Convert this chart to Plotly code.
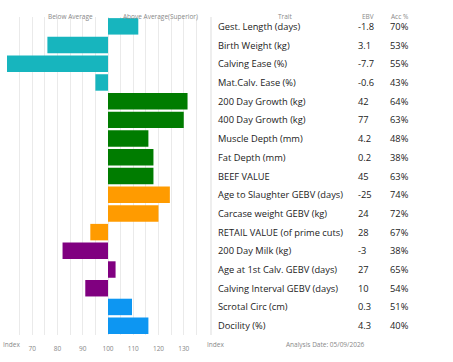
import plotly.graph_objects as go

traits = ["Gest. Length (days)", "Birth Weight (kg)", "Calving Ease (%)", "Mat.Calv. Ease (%)",
          "200 Day Growth (kg)", "400 Day Growth (kg)", "Muscle Depth (mm)", "Fat Depth (mm)",
          "BEEF VALUE", "Age to Slaughter GEBV (days)", "Carcase weight GEBV (kg)",
          "RETAIL VALUE (of prime cuts)", "200 Day Milk (kg)", "Age at 1st Calv. GEBV (days)",
          "Calving Interval GEBV (days)", "Scrotal Circ (cm)", "Docility (%)"]
ebv = ["-1.8", "3.1", "-7.7", "-0.6", "42", "77", "4.2", "0.2", "45", "-25", "24", "28",
       "-3", "27", "10", "0.3", "4.3"]
acc = ["70%", "53%", "55%", "43%", "64%", "63%", "48%", "38%", "63%", "74%", "72%", "67%",
       "38%", "65%", "54%", "51%", "40%"]
index_vals = [112, 76, 60, 95, 131.5, 130, 116, 118, 118, 124.5, 120, 93, 82, 103, 91, 109.5, 116]
groups = ["calving"] * 4 + ["growth"] * 5 + ["carcase"] * 3 + ["maternal"] * 3 + ["other"] * 2
tick_vals = [70, 80, 90, 100, 110, 120, 130]

group_colors = {"calving": "#17B5BE", "growth": "#007C00", "carcase": "#FF9B00",
                "maternal": "#800080", "other": "#0D96F2"}
colors = [group_colors[g] for g in groups]

AVG = 100
fig = go.Figure(go.Bar(
    y=traits, x=[v - AVG for v in index_vals], base=AVG, orientation="h",
    marker=dict(color=colors, line=dict(width=0)), width=0.88, hoverinfo="skip"))

L, R, T, B = 7, 209, 17, 335
W, H = 453, 362
def px(xp):
    return (xp - L) / (R - L)
def py(yp):
    return (B - yp) / (B - T)

ann = []
txt_font = dict(family="Open Sans, sans-serif", size=9.3, color="#222")
for t, e, a in zip(traits, ebv, acc):
    ann.append(dict(x=px(216), xref="paper", y=t, yref="y", text=t, showarrow=False,
                    xanchor="left", font=txt_font))
    ann.append(dict(x=px(356), xref="paper", y=t, yref="y", text=e, showarrow=False,
                    xanchor="left", font=txt_font))
    ann.append(dict(x=px(388), xref="paper", y=t, yref="y", text=a, showarrow=False,
                    xanchor="left", font=txt_font))

small = dict(family="Open Sans, sans-serif", size=6.5, color="#888")
for xpx, txt in [(70, "Below Average"), (160, "Above Average(Superior)"),
                 (285, "Trait"), (368, "EBV"), (400, "Acc %")]:
    ann.append(dict(x=px(xpx), xref="paper", y=py(10), yref="paper", text=txt,
                    showarrow=False, xanchor="center", font=small))
for xpx, txt, anc in [(1, "Index", "left"), (205, "Index", "left"),
                      (284, "Analysis Date: 05/09/2026", "left")]:
    ann.append(dict(x=px(xpx), xref="paper", y=py(351), yref="paper", text=txt,
                    showarrow=False, xanchor=anc, font=small))

fig.update_layout(
    width=W, height=H, margin=dict(l=L, r=W - R, t=T, b=H - B),
    plot_bgcolor="white", paper_bgcolor="white", showlegend=False,
    xaxis=dict(range=[60, 140], tickvals=tick_vals, ticktext=[str(v) for v in tick_vals],
               showgrid=False, zeroline=False, showline=False,
               tickfont=dict(family="Open Sans, sans-serif", size=6.5, color="#888"),
               ticks="", ticklabelstandoff=8, minor=dict(dtick=5, tick0=60, showgrid=True,
               gridcolor="#EAEAEA", gridwidth=1)),
    yaxis=dict(autorange="reversed", showticklabels=False, showgrid=False, zeroline=False,
               showline=False),
    annotations=ann,
    shapes=[dict(type="line", xref="paper", yref="paper", x0=px(211), x1=px(211),
                 y0=py(T), y1=py(B), line=dict(color="#DDDDDD", width=1))],
)
fig.write_html("out.html", config={"displayModeBar": False},
               post_script="document.body.style.margin='0';document.body.style.padding='0';")
